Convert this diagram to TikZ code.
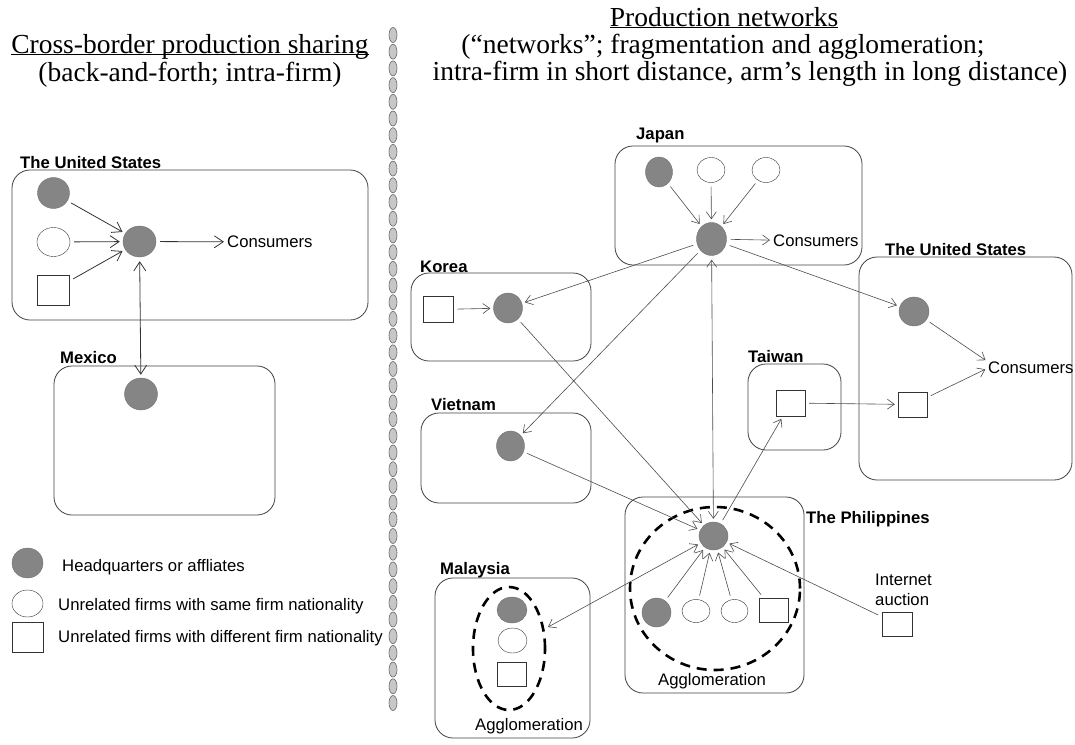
\documentclass[tikz,border=0pt]{standalone}
\usepackage{fontspec}
\setmainfont{Liberation Sans}
\newfontfamily\titlefont{Liberation Serif}
\usetikzlibrary{arrows.meta,shapes.geometric}
\tikzstyle{country} =
  [ rectangle
  , rounded corners=18pt
  , draw=black!75
  , line width=0.8pt
  , inner sep=0pt
  ]
\tikzstyle{country_name} =
  [ anchor=base west
  , inner sep=0pt
  , font=\fontsize{16.7}{18}\selectfont\bfseries
  ]
\tikzstyle{affiliate} =
  [ ellipse
  , fill=black!48
  , draw=black!55
  , inner sep=0pt
  ]
\tikzstyle{same_firm} =
  [ ellipse
  , draw=black!80
  , fill=white
  , inner sep=0pt
  ]
\tikzstyle{other_firm} =
  [ rectangle
  , draw=black!80
  , fill=white
  , inner sep=0pt
  ]
\tikzstyle{agglomeration} =
  [ ellipse
  , draw
  , line width=2.6pt
  , dash pattern=on 10pt off 7pt
  , inner sep=0pt
  ]
\tikzstyle{plain_text} =
  [ inner sep=0pt
  , font=\fontsize{16.7}{20}\selectfont
  ]
\tikzstyle{title_text} =
  [ inner sep=0pt
  , font=\titlefont\fontsize{27.5}{28}\selectfont
  ]
\tikzstyle{flow} =
  [ draw=black!80
  , line width=0.8pt
  , shorten >=3pt
  , shorten <=4pt
  ]
\tikzset{dims/.style 2 args={minimum width=#1pt, minimum height=#2pt}}
\def\Consumers{Consumers}
\def\Agglomeration{Agglomeration}
\def\UnitedStates{The United States}
\def\TitleLine#1{\underline{\smash{#1}}}

\begin{document}
\begin{tikzpicture}[x=1pt, y=-1pt, >={Straight Barb[length=7pt,width=10pt]}]
    \useasboundingbox (0,0) rectangle (1075,744);

    % titles
    \node[title_text, anchor=base] (title_left)  at (190,53)  {\TitleLine{Cross-border production sharing}};
    \node[title_text, anchor=base] (sub_left)    at (190,81)  {(back-and-forth; intra-firm)};
    \node[title_text, anchor=base] (title_right) at (724,26)  {\TitleLine{Production networks}};
    \node[title_text, anchor=base] (sub_right_a) at (723,53)  {(“networks”; fragmentation and agglomeration;};
    \node[title_text, anchor=base] (sub_right_b) at (750,80)  {intra-firm in short distance, arm’s length in long distance)};

    % separator
    \foreach \i in {0,...,40}
      \draw[black!60, fill=black!22, line width=0.6pt] (393,35+\i*16.7) ellipse (4 and 7.5);

    % cross-border sharing: United States and Mexico
    \node[country, dims={356}{150}] (us_left) at (190,245)   {};
    \node[country, dims={221}{149}] (mexico)  at (164.5,440.5) {};
    \node[country_name] at (20,168) {\UnitedStates};
    \node[country_name] at (60,363) {Mexico};

    \node[affiliate,  dims={32}{31}] (us_hq_a) at (53.5,193) {};
    \node[same_firm,  dims={33}{29}] (us_uf)   at (53.5,242) {};
    \node[other_firm, dims={32}{30}] (us_df)   at (53.5,290) {};
    \node[affiliate,  dims={33}{31}] (us_hq_b) at (139.5,241.5) {};
    \node[plain_text, anchor=west]   (us_cons) at (227,242) {\Consumers};
    \node[affiliate,  dims={33}{32}] (mx_hq)   at (141,394) {};

    \begin{scope}[>={Straight Barb[length=9pt,width=12pt]}]
      \draw[flow,->]  (us_hq_a) -- (us_hq_b);
      \draw[flow,->]  (us_uf)   -- (us_hq_b);
      \draw[flow,->]  (us_df)   -- (us_hq_b);
      \draw[flow,->]  (us_hq_b) -- (us_cons);
      \draw[flow,<->] (us_hq_b) -- (mx_hq);
    \end{scope}

    % legend
    \node[affiliate,  dims={31}{30}] (key_hq) at (27.5,563) {};
    \node[same_firm,  dims={31}{27}] (key_uf) at (27.5,603.5) {};
    \node[other_firm, dims={31}{30}] (key_df) at (27.5,637) {};
    \node[plain_text, anchor=west] at (62,567) {Headquarters or affliates};
    \node[plain_text, anchor=west] at (58,606) {Unrelated firms with same firm nationality};
    \node[plain_text, anchor=west] at (58,638) {Unrelated firms with different firm nationality};

    % production networks: countries
    \node[country, dims={247}{119}] (japan)       at (738.5,205.5) {};
    \node[country, dims={180}{88}]  (korea)       at (501,317)     {};
    \node[country, dims={170}{90}]  (vietnam)     at (506,458)     {};
    \node[country, dims={93}{86}]   (taiwan)      at (794.5,407)   {};
    \node[country, dims={213}{223}] (us_right)    at (965.5,368.5) {};
    \node[country, dims={179}{196}] (philippines) at (714.5,595)   {};
    \node[country, dims={155}{160}] (malaysia)    at (512.5,658)   {};
    \node[country_name] at (636,139) {Japan};
    \node[country_name] at (420,272) {Korea};
    \node[country_name] at (431,410) {Vietnam};
    \node[country_name] at (748,362) {Taiwan};
    \node[country_name] at (885,255) {\UnitedStates};
    \node[country_name] at (806,523) {The Philippines};
    \node[country_name] at (440,574) {Malaysia};

    % firms
    \node[affiliate,  dims={27}{30}] (jp_hq_a) at (659,172)   {};
    \node[same_firm,  dims={28}{25}] (jp_uf_a) at (711,170)   {};
    \node[same_firm,  dims={28}{25}] (jp_uf_b) at (766,170)   {};
    \node[affiliate,  dims={30}{33}] (jp_hq)   at (711.5,239) {};
    \node[plain_text, anchor=west]   (jp_cons) at (773,241)   {\Consumers};

    \node[other_firm, dims={30}{26}] (kr_df) at (438,309.5) {};
    \node[affiliate,  dims={29}{30}] (kr_hq) at (508,308)   {};
    \node[affiliate,  dims={28}{30}] (vn_hq) at (510.5,446) {};
    \node[other_firm, dims={29}{26}] (tw_df) at (790.5,403) {};

    \node[affiliate,  dims={30}{29}] (usr_hq)   at (914,311.5)   {};
    \node[other_firm, dims={29}{25}] (usr_df)   at (912.5,404.5) {};
    \node[plain_text, anchor=west]   (usr_cons) at (988,368)     {\Consumers};

    \node[agglomeration, dims={170}{163}] (ph_cluster) at (715,588.5) {};
    \node[affiliate,  dims={29}{28}] (ph_hq)   at (713.5,536) {};
    \node[affiliate,  dims={29}{29}] (ph_hq_b) at (656.5,612.5) {};
    \node[same_firm,  dims={28}{23}] (ph_uf_a) at (696,611)   {};
    \node[same_firm,  dims={27}{23}] (ph_uf_b) at (734.5,611) {};
    \node[other_firm, dims={29}{24}] (ph_df)   at (773.5,610) {};
    \node[plain_text] at (712,681) {\Agglomeration};

    \node[agglomeration, dims={72}{123}] (my_cluster) at (509,648.5) {};
    \node[affiliate,  dims={30}{26}] (my_hq) at (512,610)   {};
    \node[same_firm,  dims={29}{25}] (my_uf) at (512.5,640.5) {};
    \node[other_firm, dims={29}{24}] (my_df) at (511.5,674) {};
    \node[plain_text] at (529,726) {\Agglomeration};

    \node[other_firm, dims={30}{24}] (auction) at (897,624) {};
    \node[plain_text, align=left, anchor=south west] (auction_txt) at (875,606) {Internet\\auction};

    % flows
    \begin{scope}[every path/.style={flow, draw=black!70, line width=0.6pt}]
      \draw[->]  (jp_hq_a) -- (jp_hq);
      \draw[->]  (jp_uf_a) -- (jp_hq);
      \draw[->]  (jp_uf_b) -- (jp_hq);
      \draw[->]  (jp_hq)   -- (jp_cons);
      \draw[->]  (jp_hq)   -- (kr_hq);
      \draw[->]  (jp_hq)   -- (vn_hq);
      \draw[->]  (jp_hq)   -- (usr_hq);
      \draw[<->] (jp_hq)   -- (ph_hq);
      \draw[->]  (kr_df)   -- (kr_hq);
      \draw[->]  (kr_hq)   -- (ph_hq);
      \draw[->]  (vn_hq)   -- (ph_hq);
      \draw[->]  (ph_hq)   -- (tw_df);
      \draw[->]  (tw_df)   -- (usr_df);
      \draw[->]  (usr_hq)  -- (usr_cons.north west);
      \draw[->]  (usr_df)  -- (usr_cons.west);
      \draw[->]  (ph_hq_b) -- (ph_hq);
      \draw[->]  (ph_uf_a) -- (ph_hq);
      \draw[->]  (ph_uf_b) -- (ph_hq);
      \draw[->]  (ph_df)   -- (ph_hq);
      \draw[<->] (my_cluster) -- (ph_hq);
      \draw[->]  (auction) -- (ph_hq);
    \end{scope}
\end{tikzpicture}
\end{document}
